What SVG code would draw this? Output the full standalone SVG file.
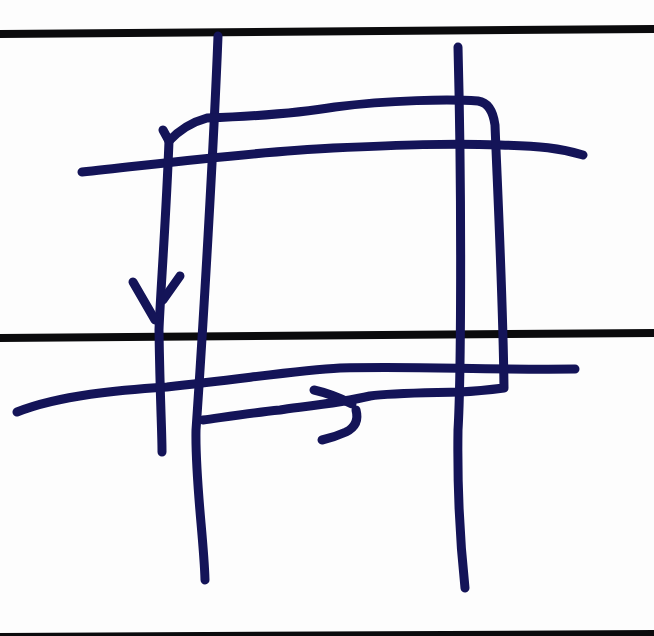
<svg xmlns="http://www.w3.org/2000/svg" width="654" height="636" viewBox="0 0 654 636">
<style>
.rule{fill:none;stroke:#0b0b0d;stroke-width:8;stroke-linecap:butt}
.ink{fill:none;stroke:#141458;stroke-width:9;stroke-linecap:round;stroke-linejoin:round}
</style>
<rect width="654" height="636" fill="#fdfdfd"/>
<g id="paper-lines">
<path class="rule" d="M0,34 L654,29"/>
<path class="rule" d="M0,338 L654,333"/>
<path class="rule" d="M0,637 L654,634"/>
</g>
<g id="grid-lines">
<path class="ink" d="M218,36 C214,140 203,330 196,430 C195,480 204,540 205,580"/>
<path class="ink" d="M458,47 C462,200 461,380 458,430 C457,500 462,560 465,588"/>
<path class="ink" d="M82,172 C150,165 250,152 333,148 C400,145 450,143 500,145 C540,146 560,148 583,155"/>
<path class="ink" d="M17,412 C60,395 120,390 167,387 C250,378 300,370 340,368 C420,366 480,370 575,369"/>
</g>
<g id="loop">
<path class="ink" d="M163,130 L169,141 Q185,124 207,118 C260,116 300,113 335,107 C390,100 450,99 478,101 Q492,103 495,125 C498,200 503,300 504,388 Q480,391 460,392 C420,393 390,393 370,396 C340,403 300,407 280,410 C250,413 225,417 203,420"/>
<path class="ink" d="M169,141 C166,220 160,300 159,330 C160,400 162,430 162,452"/>
</g>
<g id="arrows">
<path class="ink" d="M133,282 L155,320"/>
<path class="ink" d="M180,276 L163,300"/>
<path class="ink" d="M314,390 Q332,394 352,404"/>
<path class="ink" d="M356,410 Q360,425 346,432 Q335,437 322,440"/>
</g>
</svg>
